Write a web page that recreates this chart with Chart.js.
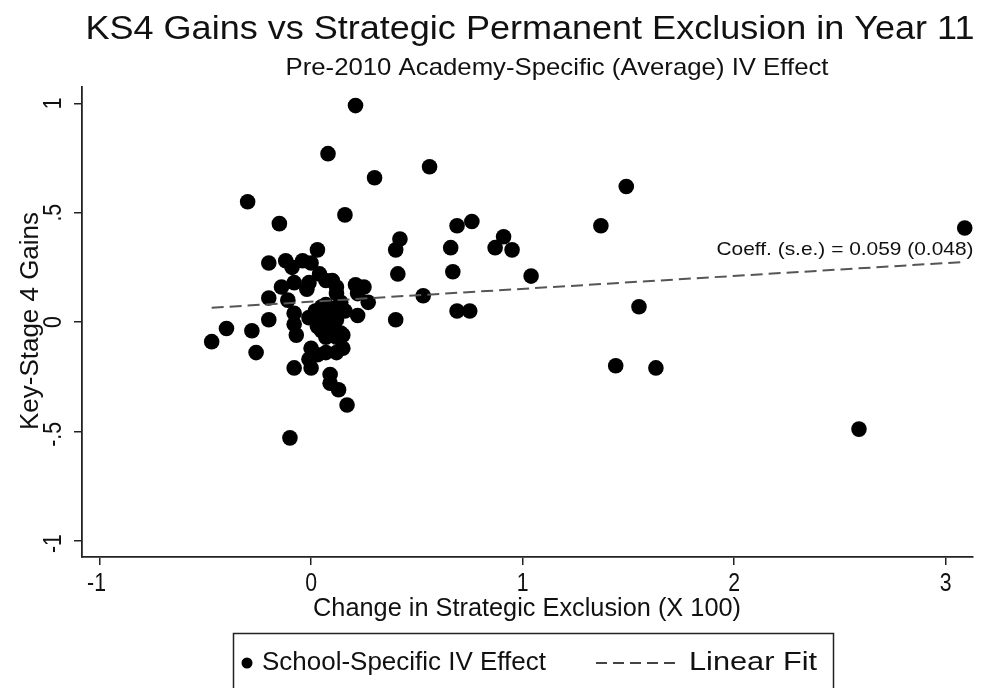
<!DOCTYPE html>
<html>
<head>
<meta charset="utf-8">
<script src="https://cdn.jsdelivr.net/npm/chart.js@4.4.1/dist/chart.umd.min.js"></script>
<style>
  html, body { margin: 0; padding: 0; background: #fff; }
  #wrap { width: 981px; height: 688px; position: relative; }
</style>
</head>
<body>
<div id="wrap"><canvas id="chart" width="981" height="688"></canvas></div>
<script>
// ===== Data =====
const schoolX = [
  0.21, 0.08, 0.56, 0.30, -0.30, 0.16, -0.15, 1.49, 1.37, 3.09,
  0.76, 0.69, 0.91, 0.87, 0.95, 0.66, 0.42, 0.40, 0.41, 0.67,
  1.04, 0.53, 0.69, 0.75, 0.40, 1.55, 1.44, 1.63, 2.59, -0.10,
  0.17, 0.13, 0.09, 0.09, 0.00, -0.08, -0.26, -0.47, -0.40, -0.28,
  -0.20, 0.03, -0.20, -0.12, -0.04, 0.00, -0.09, 0.04, 0.07, 0.10,
  -0.14, -0.08, -0.02, -0.01, 0.12, 0.12, 0.21, 0.25, 0.22, 0.27,
  -0.20, -0.11, 0.02, 0.05, 0.08, 0.14, 0.16, 0.22, -0.08, -0.01,
  0.05, 0.08, 0.12, -0.08, 0.05, 0.10, 0.14, -0.07, 0.07, 0.12,
  0.15, 0.00, -0.01, 0.03, 0.07, 0.12, 0.15, 0.07, 0.10, 0.03
];
const schoolY = [
  0.99, 0.77, 0.71, 0.66, 0.55, 0.49, 0.45, 0.62, 0.44, 0.43,
  0.46, 0.44, 0.39, 0.34, 0.33, 0.34, 0.38, 0.33, 0.22, 0.23,
  0.21, 0.12, 0.05, 0.05, 0.01, 0.07, -0.20, -0.21, -0.49, -0.53,
  -0.38, -0.31, -0.28, -0.24, -0.21, -0.21, -0.14, -0.09, -0.03, -0.04,
  0.01, 0.33, 0.27, 0.28, 0.28, 0.27, 0.25, 0.22, 0.19, 0.19,
  0.16, 0.18, 0.15, 0.18, 0.16, 0.13, 0.17, 0.16, 0.13, 0.09,
  0.11, 0.10, 0.05, 0.07, 0.04, 0.09, 0.05, 0.03, 0.04, 0.02,
  0.02, 0.00, 0.01, -0.01, -0.04, -0.03, -0.05, -0.06, -0.07, -0.07,
  -0.06, -0.12, -0.17, -0.15, -0.14, -0.14, -0.12, 0.08, 0.06, -0.02
];
const fitX = [-0.47, 3.09];
const fitY = [0.065, 0.275];
const xTicks = [-1, 0, 1, 2, 3];
const xTickLabels = ['-1', '0', '1', '2', '3'];
const yTicks = [-1, -0.5, 0, 0.5, 1];
const yTickLabels = ['-1', '-.5', '0', '.5', '1'];

const titleText = 'KS4 Gains vs Strategic Permanent Exclusion in Year 11';
const subtitleText = 'Pre-2010 Academy-Specific (Average) IV Effect';
const xTitle = 'Change in Strategic Exclusion (X 100)';
const yTitle = 'Key-Stage 4 Gains';
const fitNote = 'Coeff. (s.e.) = 0.059 (0.048)';
const seriesNames = ['School-Specific IV Effect', 'Linear Fit'];

const FONT = '"Liberation Sans", Arial, sans-serif';
const INK = '#111';

// draw text centred on (cx, cy); width squeezes it to a box, sx just scales
function fitText(ctx, text, cx, cy, size, width, rot, sx) {
  ctx.save();
  ctx.font = size + 'px ' + FONT;
  ctx.fillStyle = INK;
  ctx.textAlign = 'center';
  ctx.textBaseline = 'middle';
  const w = ctx.measureText(text).width;
  ctx.translate(cx, cy);
  if (rot) ctx.rotate(rot);
  ctx.scale(width ? width / w : (sx || 1), 1);
  ctx.fillText(text, 0, 0);
  ctx.restore();
}

// ===== Titles, tick labels, note and legend =====
const decor = {
  id: 'decor',
  afterDraw(chart) {
    const ctx = chart.ctx;
    const xs = chart.scales.x, ys = chart.scales.y;

    fitText(ctx, titleText, 530, 30, 33, 889);
    fitText(ctx, subtitleText, 557, 68, 24, 543);

    xTicks.forEach((v, i) => {
      const px = xs.getPixelForValue(v) - (xTickLabels[i].startsWith('-') ? 3 : 0);
      fitText(ctx, xTickLabels[i], px, 584, 25, null, 0, 0.85);
    });
    yTicks.forEach((v, i) => {
      const py = ys.getPixelForValue(v) + (yTickLabels[i].startsWith('-') ? 3 : 0);
      fitText(ctx, yTickLabels[i], 54, py, 25, null, -Math.PI / 2, 0.85);
    });

    fitText(ctx, xTitle, 527, 609, 25, 428);
    fitText(ctx, yTitle, 31, 321, 25, 218, -Math.PI / 2);

    fitText(ctx, fitNote, 845, 250, 19, 257);

    // legend box
    ctx.save();
    ctx.strokeStyle = '#222';
    ctx.lineWidth = 1.5;
    ctx.strokeRect(233.5, 633.5, 600, 70);
    ctx.fillStyle = '#000';
    ctx.beginPath();
    ctx.arc(247, 663, 5.5, 0, Math.PI * 2);
    ctx.fill();
    ctx.strokeStyle = '#444';
    ctx.lineWidth = 2;
    ctx.setLineDash([11, 6]);
    ctx.beginPath();
    ctx.moveTo(596, 663);
    ctx.lineTo(678, 663);
    ctx.stroke();
    ctx.restore();
    fitText(ctx, seriesNames[0], 404, 663, 25, 284);
    fitText(ctx, seriesNames[1], 753, 663, 25, 128);
  }
};

const axisGrid = { drawOnChartArea: false, drawTicks: true, tickLength: 8, color: '#222', lineWidth: 1.5 };
const axisBorder = { display: true, color: '#222', width: 1.8 };

new Chart(document.getElementById('chart').getContext('2d'), {
  type: 'scatter',
  data: {
    datasets: [
      {
        label: seriesNames[1],
        type: 'line',
        data: fitX.map((x, i) => ({ x, y: fitY[i] })),
        borderColor: '#555',
        borderWidth: 2,
        borderDash: [12, 6],
        pointRadius: 0,
        fill: false
      },
      {
        label: seriesNames[0],
        data: schoolX.map((x, i) => ({ x, y: schoolY[i] })),
        backgroundColor: '#000',
        borderWidth: 0,
        pointRadius: 7.8,
        pointHoverRadius: 7.8,
        clip: false
      }
    ]
  },
  options: {
    responsive: false,
    animation: false,
    events: [],
    layout: { padding: { left: 74, top: 87, right: 3, bottom: 91 } },
    plugins: { legend: { display: false }, title: { display: false }, tooltip: { enabled: false } },
    scales: {
      x: {
        type: 'linear', min: -1.083, max: 3.13,
        afterBuildTicks: s => { s.ticks = xTicks.map(v => ({ value: v })); },
        afterFit: s => { s.height = 40; },
        grid: axisGrid, border: axisBorder,
        ticks: { display: false }
      },
      y: {
        type: 'linear', min: -1.075, max: 1.075,
        afterBuildTicks: s => { s.ticks = yTicks.map(v => ({ value: v })); },
        afterFit: s => { s.width = 8; },
        grid: axisGrid, border: axisBorder,
        ticks: { display: false }
      }
    }
  },
  plugins: [decor]
});
</script>
</body>
</html>
